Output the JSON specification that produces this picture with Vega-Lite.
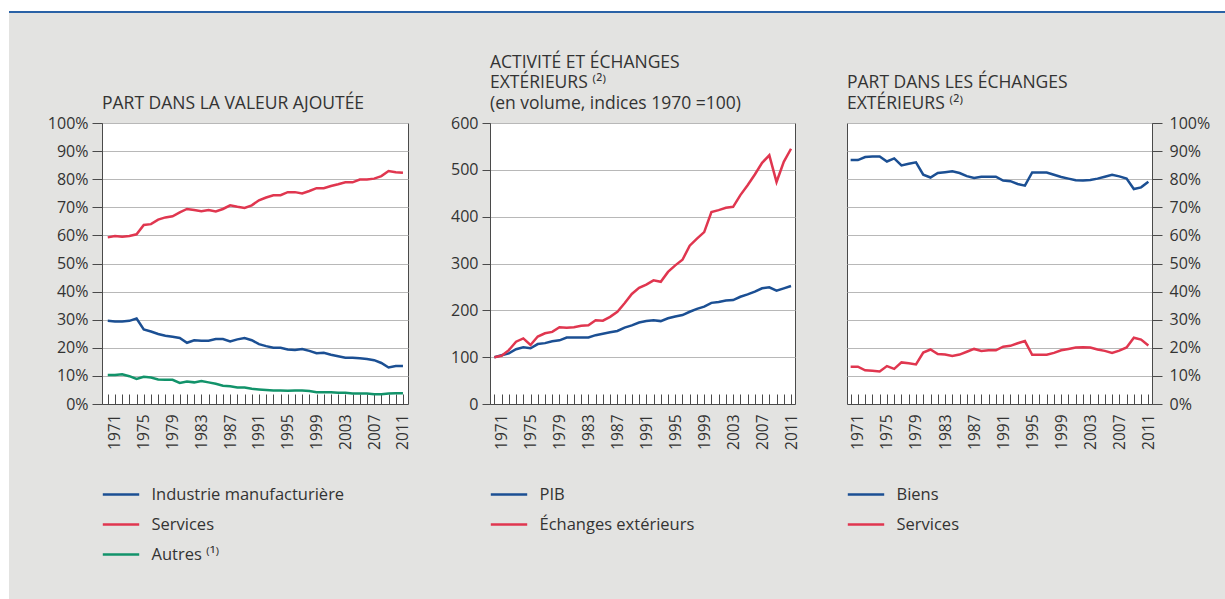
{
"$schema": "https://vega.github.io/schema/vega-lite/v6.json",
"background": "#e3e3e1",
"padding": 0,
"spacing": 0,
"resolve": {"scale": {"color": "independent"}, "legend": {"color": "independent"}},
"config": {
  "font": "Open Sans",
  "view": {"fill": "white", "stroke": "#4a4a4a", "strokeWidth": 1},
  "axis": {"labelFont": "Open Sans", "labelFontSize": 16, "labelColor": "#333333", "tickColor": "#4a4a4a", "domainColor": "#4a4a4a", "gridColor": "#b8b8b8", "gridWidth": 1, "title": null, "labelOverlap": false},
  "axisX": {"labelFontSize": 15.5},
  "legend": {"orient": "none", "title": null, "padding": 0, "symbolType": "M-1.4,0H1.4", "symbolSize": 676, "symbolStrokeWidth": 2.5, "labelFont": "Open Sans", "labelFontSize": 16.5, "labelColor": "#333333", "rowPadding": 7, "labelOffset": 16, "labelLimit": 0},
  "title": {"anchor": "start", "frame": "group", "font": "Open Sans", "fontSize": 17.5, "fontWeight": "normal", "color": "#333333", "lineHeight": 20.5, "offset": 3},
  "line": {"strokeWidth": 2.5}
},
"datasets": {
  "one": [{"k": 1}],
  "p1": [
{"year":1970,"serie":"Industrie manufacturière","value":29.6},{"year":1971,"serie":"Industrie manufacturière","value":29.4},{"year":1972,"serie":"Industrie manufacturière","value":29.4},{"year":1973,"serie":"Industrie manufacturière","value":29.6},{"year":1974,"serie":"Industrie manufacturière","value":30.4},{"year":1975,"serie":"Industrie manufacturière","value":26.5},{"year":1976,"serie":"Industrie manufacturière","value":25.8},{"year":1977,"serie":"Industrie manufacturière","value":24.9},{"year":1978,"serie":"Industrie manufacturière","value":24.3},{"year":1979,"serie":"Industrie manufacturière","value":23.9},
{"year":1980,"serie":"Industrie manufacturière","value":23.5},{"year":1981,"serie":"Industrie manufacturière","value":21.8},{"year":1982,"serie":"Industrie manufacturière","value":22.7},{"year":1983,"serie":"Industrie manufacturière","value":22.5},{"year":1984,"serie":"Industrie manufacturière","value":22.5},{"year":1985,"serie":"Industrie manufacturière","value":23.1},{"year":1986,"serie":"Industrie manufacturière","value":23.1},{"year":1987,"serie":"Industrie manufacturière","value":22.3},{"year":1988,"serie":"Industrie manufacturière","value":23.0},{"year":1989,"serie":"Industrie manufacturière","value":23.5},
{"year":1990,"serie":"Industrie manufacturière","value":22.7},{"year":1991,"serie":"Industrie manufacturière","value":21.3},{"year":1992,"serie":"Industrie manufacturière","value":20.6},{"year":1993,"serie":"Industrie manufacturière","value":20.0},{"year":1994,"serie":"Industrie manufacturière","value":20.0},{"year":1995,"serie":"Industrie manufacturière","value":19.4},{"year":1996,"serie":"Industrie manufacturière","value":19.2},{"year":1997,"serie":"Industrie manufacturière","value":19.6},{"year":1998,"serie":"Industrie manufacturière","value":18.9},{"year":1999,"serie":"Industrie manufacturière","value":18.1},
{"year":2000,"serie":"Industrie manufacturière","value":18.2},{"year":2001,"serie":"Industrie manufacturière","value":17.5},{"year":2002,"serie":"Industrie manufacturière","value":17.0},{"year":2003,"serie":"Industrie manufacturière","value":16.5},{"year":2004,"serie":"Industrie manufacturière","value":16.5},{"year":2005,"serie":"Industrie manufacturière","value":16.3},{"year":2006,"serie":"Industrie manufacturière","value":16.0},{"year":2007,"serie":"Industrie manufacturière","value":15.6},{"year":2008,"serie":"Industrie manufacturière","value":14.6},{"year":2009,"serie":"Industrie manufacturière","value":13.0},{"year":2010,"serie":"Industrie manufacturière","value":13.5},{"year":2011,"serie":"Industrie manufacturière","value":13.5},
{"year":1970,"serie":"Services","value":59.3},{"year":1971,"serie":"Services","value":59.8},{"year":1972,"serie":"Services","value":59.5},{"year":1973,"serie":"Services","value":59.8},{"year":1974,"serie":"Services","value":60.4},{"year":1975,"serie":"Services","value":63.7},{"year":1976,"serie":"Services","value":64.0},{"year":1977,"serie":"Services","value":65.6},{"year":1978,"serie":"Services","value":66.4},{"year":1979,"serie":"Services","value":66.8},
{"year":1980,"serie":"Services","value":68.2},{"year":1981,"serie":"Services","value":69.4},{"year":1982,"serie":"Services","value":69.0},{"year":1983,"serie":"Services","value":68.6},{"year":1984,"serie":"Services","value":69.0},{"year":1985,"serie":"Services","value":68.5},{"year":1986,"serie":"Services","value":69.4},{"year":1987,"serie":"Services","value":70.7},{"year":1988,"serie":"Services","value":70.2},{"year":1989,"serie":"Services","value":69.8},
{"year":1990,"serie":"Services","value":70.7},{"year":1991,"serie":"Services","value":72.5},{"year":1992,"serie":"Services","value":73.5},{"year":1993,"serie":"Services","value":74.3},{"year":1994,"serie":"Services","value":74.3},{"year":1995,"serie":"Services","value":75.4},{"year":1996,"serie":"Services","value":75.4},{"year":1997,"serie":"Services","value":74.9},{"year":1998,"serie":"Services","value":75.8},{"year":1999,"serie":"Services","value":76.8},
{"year":2000,"serie":"Services","value":76.8},{"year":2001,"serie":"Services","value":77.6},{"year":2002,"serie":"Services","value":78.2},{"year":2003,"serie":"Services","value":78.9},{"year":2004,"serie":"Services","value":78.9},{"year":2005,"serie":"Services","value":79.9},{"year":2006,"serie":"Services","value":79.9},{"year":2007,"serie":"Services","value":80.2},{"year":2008,"serie":"Services","value":81.1},{"year":2009,"serie":"Services","value":82.9},{"year":2010,"serie":"Services","value":82.5},{"year":2011,"serie":"Services","value":82.3},
{"year":1970,"serie":"Autres ⁽¹⁾","value":10.3},{"year":1971,"serie":"Autres ⁽¹⁾","value":10.3},{"year":1972,"serie":"Autres ⁽¹⁾","value":10.6},{"year":1973,"serie":"Autres ⁽¹⁾","value":9.9},{"year":1974,"serie":"Autres ⁽¹⁾","value":8.9},{"year":1975,"serie":"Autres ⁽¹⁾","value":9.7},{"year":1976,"serie":"Autres ⁽¹⁾","value":9.4},{"year":1977,"serie":"Autres ⁽¹⁾","value":8.7},{"year":1978,"serie":"Autres ⁽¹⁾","value":8.6},{"year":1979,"serie":"Autres ⁽¹⁾","value":8.6},
{"year":1980,"serie":"Autres ⁽¹⁾","value":7.5},{"year":1981,"serie":"Autres ⁽¹⁾","value":8.0},{"year":1982,"serie":"Autres ⁽¹⁾","value":7.7},{"year":1983,"serie":"Autres ⁽¹⁾","value":8.2},{"year":1984,"serie":"Autres ⁽¹⁾","value":7.7},{"year":1985,"serie":"Autres ⁽¹⁾","value":7.2},{"year":1986,"serie":"Autres ⁽¹⁾","value":6.5},{"year":1987,"serie":"Autres ⁽¹⁾","value":6.3},{"year":1988,"serie":"Autres ⁽¹⁾","value":5.9},{"year":1989,"serie":"Autres ⁽¹⁾","value":5.9},
{"year":1990,"serie":"Autres ⁽¹⁾","value":5.4},{"year":1991,"serie":"Autres ⁽¹⁾","value":5.2},{"year":1992,"serie":"Autres ⁽¹⁾","value":5.0},{"year":1993,"serie":"Autres ⁽¹⁾","value":4.8},{"year":1994,"serie":"Autres ⁽¹⁾","value":4.8},{"year":1995,"serie":"Autres ⁽¹⁾","value":4.7},{"year":1996,"serie":"Autres ⁽¹⁾","value":4.8},{"year":1997,"serie":"Autres ⁽¹⁾","value":4.8},{"year":1998,"serie":"Autres ⁽¹⁾","value":4.6},{"year":1999,"serie":"Autres ⁽¹⁾","value":4.2},
{"year":2000,"serie":"Autres ⁽¹⁾","value":4.2},{"year":2001,"serie":"Autres ⁽¹⁾","value":4.2},{"year":2002,"serie":"Autres ⁽¹⁾","value":4.0},{"year":2003,"serie":"Autres ⁽¹⁾","value":4.0},{"year":2004,"serie":"Autres ⁽¹⁾","value":3.7},{"year":2005,"serie":"Autres ⁽¹⁾","value":3.7},{"year":2006,"serie":"Autres ⁽¹⁾","value":3.7},{"year":2007,"serie":"Autres ⁽¹⁾","value":3.5},{"year":2008,"serie":"Autres ⁽¹⁾","value":3.5},{"year":2009,"serie":"Autres ⁽¹⁾","value":3.7},{"year":2010,"serie":"Autres ⁽¹⁾","value":3.8},{"year":2011,"serie":"Autres ⁽¹⁾","value":3.8}
  ],
  "p2": [
{"year":1970,"serie":"PIB","value":100},{"year":1971,"serie":"PIB","value":104},{"year":1972,"serie":"PIB","value":108},{"year":1973,"serie":"PIB","value":117},{"year":1974,"serie":"PIB","value":121},{"year":1975,"serie":"PIB","value":119},{"year":1976,"serie":"PIB","value":128},{"year":1977,"serie":"PIB","value":130},{"year":1978,"serie":"PIB","value":134},{"year":1979,"serie":"PIB","value":136},
{"year":1980,"serie":"PIB","value":142},{"year":1981,"serie":"PIB","value":142},{"year":1982,"serie":"PIB","value":142},{"year":1983,"serie":"PIB","value":142},{"year":1984,"serie":"PIB","value":147},{"year":1985,"serie":"PIB","value":150},{"year":1986,"serie":"PIB","value":153},{"year":1987,"serie":"PIB","value":156},{"year":1988,"serie":"PIB","value":163},{"year":1989,"serie":"PIB","value":168},
{"year":1990,"serie":"PIB","value":174},{"year":1991,"serie":"PIB","value":177},{"year":1992,"serie":"PIB","value":179},{"year":1993,"serie":"PIB","value":177},{"year":1994,"serie":"PIB","value":183},{"year":1995,"serie":"PIB","value":187},{"year":1996,"serie":"PIB","value":190},{"year":1997,"serie":"PIB","value":197},{"year":1998,"serie":"PIB","value":203},{"year":1999,"serie":"PIB","value":208},
{"year":2000,"serie":"PIB","value":216},{"year":2001,"serie":"PIB","value":218},{"year":2002,"serie":"PIB","value":221},{"year":2003,"serie":"PIB","value":222},{"year":2004,"serie":"PIB","value":229},{"year":2005,"serie":"PIB","value":234},{"year":2006,"serie":"PIB","value":240},{"year":2007,"serie":"PIB","value":247},{"year":2008,"serie":"PIB","value":249},{"year":2009,"serie":"PIB","value":242},{"year":2010,"serie":"PIB","value":247},{"year":2011,"serie":"PIB","value":252},
{"year":1970,"serie":"Échanges extérieurs","value":100},{"year":1971,"serie":"Échanges extérieurs","value":103},{"year":1972,"serie":"Échanges extérieurs","value":115},{"year":1973,"serie":"Échanges extérieurs","value":133},{"year":1974,"serie":"Échanges extérieurs","value":140},{"year":1975,"serie":"Échanges extérieurs","value":126},{"year":1976,"serie":"Échanges extérieurs","value":144},{"year":1977,"serie":"Échanges extérieurs","value":151},{"year":1978,"serie":"Échanges extérieurs","value":154},{"year":1979,"serie":"Échanges extérieurs","value":164},
{"year":1980,"serie":"Échanges extérieurs","value":163},{"year":1981,"serie":"Échanges extérieurs","value":164},{"year":1982,"serie":"Échanges extérieurs","value":167},{"year":1983,"serie":"Échanges extérieurs","value":168},{"year":1984,"serie":"Échanges extérieurs","value":179},{"year":1985,"serie":"Échanges extérieurs","value":178},{"year":1986,"serie":"Échanges extérieurs","value":186},{"year":1987,"serie":"Échanges extérieurs","value":197},{"year":1988,"serie":"Échanges extérieurs","value":215},{"year":1989,"serie":"Échanges extérieurs","value":235},
{"year":1990,"serie":"Échanges extérieurs","value":248},{"year":1991,"serie":"Échanges extérieurs","value":255},{"year":1992,"serie":"Échanges extérieurs","value":264},{"year":1993,"serie":"Échanges extérieurs","value":261},{"year":1994,"serie":"Échanges extérieurs","value":282},{"year":1995,"serie":"Échanges extérieurs","value":296},{"year":1996,"serie":"Échanges extérieurs","value":308},{"year":1997,"serie":"Échanges extérieurs","value":338},{"year":1998,"serie":"Échanges extérieurs","value":353},{"year":1999,"serie":"Échanges extérieurs","value":367},
{"year":2000,"serie":"Échanges extérieurs","value":410},{"year":2001,"serie":"Échanges extérieurs","value":414},{"year":2002,"serie":"Échanges extérieurs","value":419},{"year":2003,"serie":"Échanges extérieurs","value":421},{"year":2004,"serie":"Échanges extérieurs","value":446},{"year":2005,"serie":"Échanges extérieurs","value":467},{"year":2006,"serie":"Échanges extérieurs","value":490},{"year":2007,"serie":"Échanges extérieurs","value":515},{"year":2008,"serie":"Échanges extérieurs","value":531},{"year":2009,"serie":"Échanges extérieurs","value":474},{"year":2010,"serie":"Échanges extérieurs","value":517},{"year":2011,"serie":"Échanges extérieurs","value":545}
  ],
  "p3": [
{"year":1970,"serie":"Biens","value":86.8},{"year":1971,"serie":"Biens","value":86.8},{"year":1972,"serie":"Biens","value":87.9},{"year":1973,"serie":"Biens","value":88.1},{"year":1974,"serie":"Biens","value":88.1},{"year":1975,"serie":"Biens","value":86.3},{"year":1976,"serie":"Biens","value":87.4},{"year":1977,"serie":"Biens","value":84.9},{"year":1978,"serie":"Biens","value":85.5},{"year":1979,"serie":"Biens","value":86.0},
{"year":1980,"serie":"Biens","value":81.6},{"year":1981,"serie":"Biens","value":80.6},{"year":1982,"serie":"Biens","value":82.2},{"year":1983,"serie":"Biens","value":82.5},{"year":1984,"serie":"Biens","value":82.8},{"year":1985,"serie":"Biens","value":82.2},{"year":1986,"serie":"Biens","value":81.1},{"year":1987,"serie":"Biens","value":80.4},{"year":1988,"serie":"Biens","value":80.9},{"year":1989,"serie":"Biens","value":80.9},
{"year":1990,"serie":"Biens","value":80.9},{"year":1991,"serie":"Biens","value":79.5},{"year":1992,"serie":"Biens","value":79.3},{"year":1993,"serie":"Biens","value":78.3},{"year":1994,"serie":"Biens","value":77.7},{"year":1995,"serie":"Biens","value":82.4},{"year":1996,"serie":"Biens","value":82.4},{"year":1997,"serie":"Biens","value":82.4},{"year":1998,"serie":"Biens","value":81.6},{"year":1999,"serie":"Biens","value":80.8},
{"year":2000,"serie":"Biens","value":80.2},{"year":2001,"serie":"Biens","value":79.6},{"year":2002,"serie":"Biens","value":79.5},{"year":2003,"serie":"Biens","value":79.7},{"year":2004,"serie":"Biens","value":80.2},{"year":2005,"serie":"Biens","value":80.9},{"year":2006,"serie":"Biens","value":81.6},{"year":2007,"serie":"Biens","value":81.0},{"year":2008,"serie":"Biens","value":80.2},{"year":2009,"serie":"Biens","value":76.5},{"year":2010,"serie":"Biens","value":77.1},{"year":2011,"serie":"Biens","value":79.1},
{"year":1970,"serie":"Services","value":13.3},{"year":1971,"serie":"Services","value":13.3},{"year":1972,"serie":"Services","value":12.0},{"year":1973,"serie":"Services","value":11.8},{"year":1974,"serie":"Services","value":11.6},{"year":1975,"serie":"Services","value":13.5},{"year":1976,"serie":"Services","value":12.5},{"year":1977,"serie":"Services","value":14.8},{"year":1978,"serie":"Services","value":14.5},{"year":1979,"serie":"Services","value":14.1},
{"year":1980,"serie":"Services","value":18.3},{"year":1981,"serie":"Services","value":19.4},{"year":1982,"serie":"Services","value":17.8},{"year":1983,"serie":"Services","value":17.6},{"year":1984,"serie":"Services","value":17.1},{"year":1985,"serie":"Services","value":17.6},{"year":1986,"serie":"Services","value":18.6},{"year":1987,"serie":"Services","value":19.6},{"year":1988,"serie":"Services","value":18.9},{"year":1989,"serie":"Services","value":19.1},
{"year":1990,"serie":"Services","value":19.1},{"year":1991,"serie":"Services","value":20.4},{"year":1992,"serie":"Services","value":20.7},{"year":1993,"serie":"Services","value":21.6},{"year":1994,"serie":"Services","value":22.4},{"year":1995,"serie":"Services","value":17.5},{"year":1996,"serie":"Services","value":17.5},{"year":1997,"serie":"Services","value":17.5},{"year":1998,"serie":"Services","value":18.2},{"year":1999,"serie":"Services","value":19.1},
{"year":2000,"serie":"Services","value":19.6},{"year":2001,"serie":"Services","value":20.1},{"year":2002,"serie":"Services","value":20.2},{"year":2003,"serie":"Services","value":20.1},{"year":2004,"serie":"Services","value":19.4},{"year":2005,"serie":"Services","value":18.9},{"year":2006,"serie":"Services","value":18.2},{"year":2007,"serie":"Services","value":19.0},{"year":2008,"serie":"Services","value":20.1},{"year":2009,"serie":"Services","value":23.6},{"year":2010,"serie":"Services","value":22.9},{"year":2011,"serie":"Services","value":20.8}
  ]
},
"hconcat": [
  {"width": 9, "height": 599, "data": {"name": "one"}, "mark": {"type": "rect", "color": "#ffffff"}, "encoding": {}, "view": {"fill": "#ffffff", "stroke": null}},
  {
    "spacing": 40,
    "resolve": {"scale": {"color": "independent"}, "legend": {"color": "independent"}},
    "vconcat": [
      {
        "spacing": 0,
        "vconcat": [
          {"width": 1216, "height": 11, "data": {"name": "one"}, "mark": {"type": "rect", "color": "#ffffff"}, "encoding": {}, "view": {"fill": "#ffffff", "stroke": null}},
          {"width": 1216, "height": 2, "data": {"name": "one"}, "mark": {"type": "rect", "color": "#2a62a6"}, "encoding": {}, "view": {"fill": "#2a62a6", "stroke": null}}
        ]
      },
      {
        "spacing": 42,
        "resolve": {"scale": {"color": "independent"}, "legend": {"color": "independent"}},
        "hconcat": [
          {
            "spacing": 82,
            "bounds": "flush",
            "resolve": {"scale": {"color": "independent"}, "legend": {"color": "independent"}},
            "hconcat": [
              {"width": 11, "height": 281, "data": {"name": "one"}, "mark": {"type": "rect", "color": "#e3e3e1"}, "encoding": {}, "view": {"fill": "#e3e3e1", "stroke": null}},
              {
                "width": 306, "height": 281,
                "title": {"text": "PART DANS LA VALEUR AJOUTÉE"},
                "data": {"name": "p1"},
                "mark": {"type": "line"},
                "encoding": {
                  "x": {"field": "year", "type": "quantitative", "scale": {"domain": [1969.2, 2011.7], "nice": false, "zero": false},
                        "axis": {"values": [1970,1971,1972,1973,1974,1975,1976,1977,1978,1979,1980,1981,1982,1983,1984,1985,1986,1987,1988,1989,1990,1991,1992,1993,1994,1995,1996,1997,1998,1999,2000,2001,2002,2003,2004,2005,2006,2007,2008,2009,2010,2011],
                                 "labelExpr": "(datum.value - 1971) % 4 == 0 ? datum.value : ''", "labelAngle": -90, "tickSize": -10, "labelPadding": 20, "grid": false}},
                  "y": {"field": "value", "type": "quantitative", "scale": {"domain": [0, 100], "nice": false},
                        "axis": {"values": [0,10,20,30,40,50,60,70,80,90,100], "labelExpr": "datum.value + '%'", "tickSize": 10, "labelPadding": 4, "grid": true}},
                  "color": {"field": "serie", "type": "nominal",
                            "scale": {"domain": ["Industrie manufacturière", "Services", "Autres ⁽¹⁾"], "range": ["#1b4f93", "#e0364f", "#12936a"]},
                            "legend": {"legendX": 4.5, "legendY": 357}}
                }
              },
              {
                "width": 305, "height": 281,
                "title": {"text": ["ACTIVITÉ ET ÉCHANGES", "EXTÉRIEURS ⁽²⁾", "(en volume, indices 1970 =100)"]},
                "data": {"name": "p2"},
                "mark": {"type": "line"},
                "encoding": {
                  "x": {"field": "year", "type": "quantitative", "scale": {"domain": [1969.4, 2011.55], "nice": false, "zero": false},
                        "axis": {"values": [1970,1971,1972,1973,1974,1975,1976,1977,1978,1979,1980,1981,1982,1983,1984,1985,1986,1987,1988,1989,1990,1991,1992,1993,1994,1995,1996,1997,1998,1999,2000,2001,2002,2003,2004,2005,2006,2007,2008,2009,2010,2011],
                                 "labelExpr": "(datum.value - 1971) % 4 == 0 ? datum.value : ''", "labelAngle": -90, "tickSize": -10, "labelPadding": 20, "grid": false}},
                  "y": {"field": "value", "type": "quantitative", "scale": {"domain": [0, 600], "nice": false},
                        "axis": {"values": [0,100,200,300,400,500,600], "tickSize": 8, "labelPadding": 4, "grid": true}},
                  "color": {"field": "serie", "type": "nominal",
                            "scale": {"domain": ["PIB", "Échanges extérieurs"], "range": ["#1b4f93", "#e0364f"]},
                            "legend": {"legendX": 4.5, "legendY": 357}}
                }
              }
            ]
          },
          {
            "width": 305, "height": 281,
            "title": {"text": [" ", "PART DANS LES ÉCHANGES", "EXTÉRIEURS ⁽²⁾"]},
            "data": {"name": "p3"},
            "mark": {"type": "line"},
            "encoding": {
              "x": {"field": "year", "type": "quantitative", "scale": {"domain": [1969.5, 2011.5], "nice": false, "zero": false},
                    "axis": {"values": [1970,1971,1972,1973,1974,1975,1976,1977,1978,1979,1980,1981,1982,1983,1984,1985,1986,1987,1988,1989,1990,1991,1992,1993,1994,1995,1996,1997,1998,1999,2000,2001,2002,2003,2004,2005,2006,2007,2008,2009,2010,2011],
                             "labelExpr": "(datum.value - 1971) % 4 == 0 ? datum.value : ''", "labelAngle": -90, "tickSize": -10, "labelPadding": 20, "grid": false}},
              "y": {"field": "value", "type": "quantitative", "scale": {"domain": [0, 100], "nice": false},
                    "axis": {"orient": "right", "values": [0,10,20,30,40,50,60,70,80,90,100], "labelExpr": "datum.value + '%'", "tickSize": 10, "labelPadding": 7, "grid": true}},
              "color": {"field": "serie", "type": "nominal",
                        "scale": {"domain": ["Biens", "Services"], "range": ["#1b4f93", "#e0364f"]},
                        "legend": {"legendX": 4.5, "legendY": 357}}
            }
          }
        ]
      }
    ]
  }
]
}
